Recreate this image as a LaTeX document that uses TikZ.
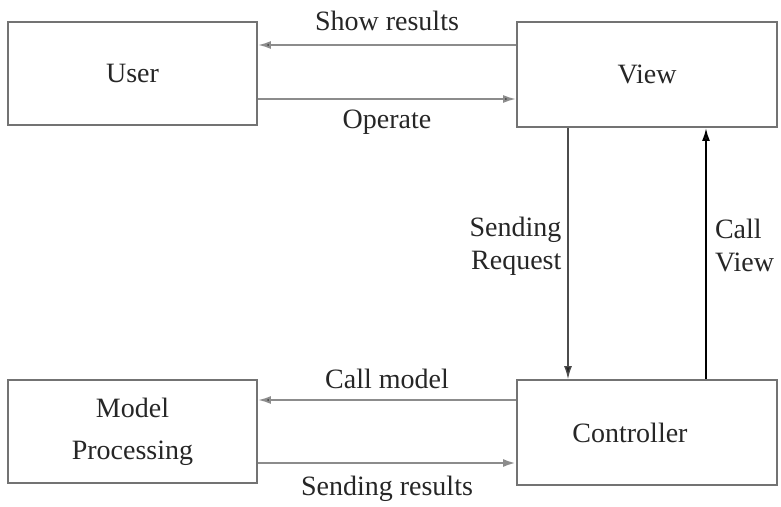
\documentclass[tikz,border=0pt]{standalone}
\usepackage{fontspec}
\setmainfont{Liberation Serif}
\usetikzlibrary{arrows.meta}
\begin{document}
\begin{tikzpicture}[x=1pt,y=-1pt,
  box/.style={draw=black!55,line width=1.8pt,inner sep=0pt,minimum width=249pt,minimum height=103pt,align=center,font=\fontsize{28}{42}\selectfont},
  arr/.style={draw=black!45,line width=2pt,-{Latex[length=13pt,width=8pt,fill=black!85]}},
  lbl/.style={font=\fontsize{28}{33}\selectfont,inner sep=0pt},
  every node/.style={text=black!85}]
\useasboundingbox (0,0) rectangle (781,506);
\node[box] (user) at (132.5,73.5) {User};
\node[box,minimum width=260pt,minimum height=105pt] (view) at (647,74.5) {View};
\node[box] (model) at (132.5,431.5) {Model\\Processing};
\node[box,minimum width=260pt,minimum height=105pt] (ctrl) at (647,432.5) {\hspace*{-34pt}Controller};
% top arrows
\draw[arr] (view.west |- 0,45) -- node[lbl,above=13pt] (l1) {Show results} (user.east |- 0,45);
\draw[arr] (user.east |- 0,99) -- node[lbl,below=10pt] (l2) {Operate} (view.west |- 0,99);
% vertical arrows
\draw[arr,draw=black!70,line width=1.3pt] (view.south -| 568,0) -- node[lbl,left=6pt,align=right,pos=0.47] (l3) {Sending\\Request} (ctrl.north -| 568,0);
\draw[arr,draw=black,line width=2pt] (ctrl.north -| 706,0) -- node[lbl,right=8pt,align=left,pos=0.53] (l4) {Call\\View} (view.south -| 706,0);
% bottom arrows
\draw[arr] (ctrl.west |- 0,400) -- node[lbl,above=10pt] (l5) {Call model} (model.east |- 0,400);
\draw[arr,line width=2.5pt] (model.east |- 0,463) -- node[lbl,below=12pt] (l6) {Sending results} (ctrl.west |- 0,463);
\end{tikzpicture}
\end{document}
